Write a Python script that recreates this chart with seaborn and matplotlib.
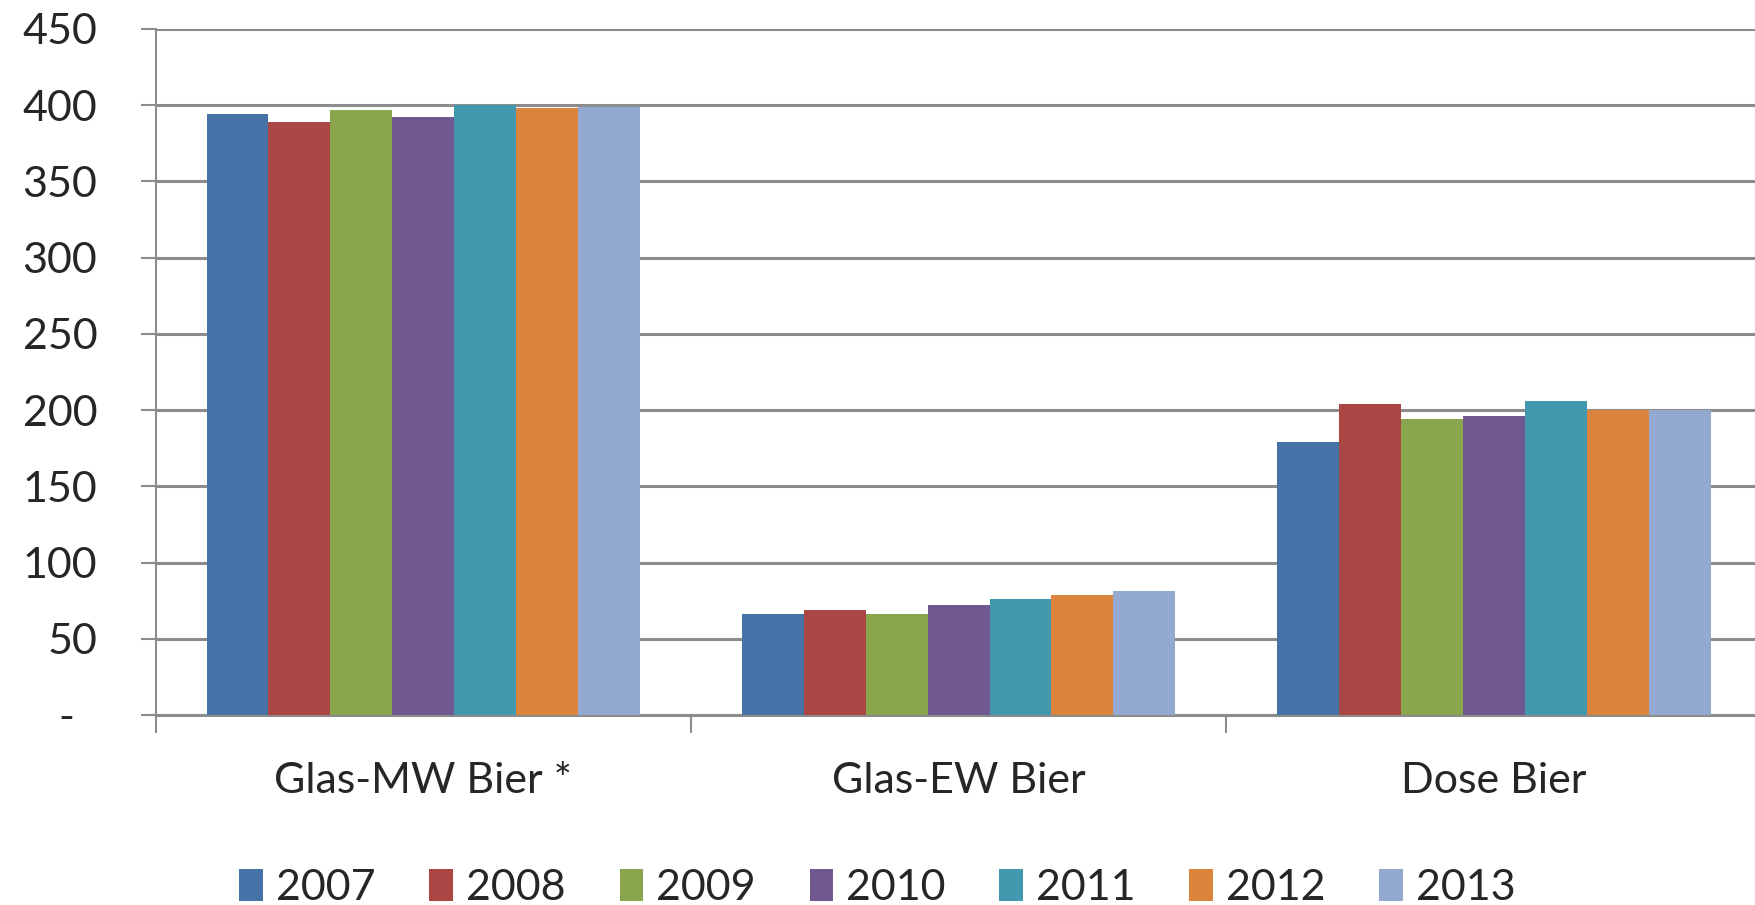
import numpy as np
import pandas as pd
import matplotlib
matplotlib.use("Agg")
import matplotlib.pyplot as plt
import seaborn as sns

categories = ["Glas-MW Bier *", "Glas-EW Bier", "Dose Bier"]
years = ["2007", "2008", "2009", "2010", "2011", "2012", "2013"]
values_2007 = [394, 66, 179]
values_2008 = [389, 69, 204]
values_2009 = [397, 66, 194]
values_2010 = [392, 72, 196]
values_2011 = [400, 76, 206]
values_2012 = [398, 79, 200]
values_2013 = [399, 81, 200]
colors = ["#4572A7", "#AA4643", "#89A54E", "#71588F", "#4198AF", "#DB843D", "#93A9CF"]
yticks = [0, 50, 100, 150, 200, 250, 300, 350, 400, 450]
ytick_labels = ["-  ", "50", "100", "150", "200", "250", "300", "350", "400", "450"]

series = [values_2007, values_2008, values_2009, values_2010, values_2011, values_2012, values_2013]
rows = []
for y, vals in zip(years, series):
    for c, v in zip(categories, vals):
        rows.append({"Kategorie": c, "Jahr": y, "Wert": v})
df = pd.DataFrame(rows)

sns.set_theme(style="white")
plt.rcParams['font.family'] = ['Lato', 'DejaVu Sans']

fig = plt.figure(figsize=(17.55, 9.05), dpi=100)
ax = fig.add_axes([0.0887, 0.21, 0.915, 0.758])

sns.barplot(data=df, x="Kategorie", y="Wert", hue="Jahr", order=categories,
            hue_order=years, palette=colors, width=0.81, gap=0, saturation=1,
            edgecolor="none", linewidth=0, ax=ax, legend=True, zorder=3)

ax.set_xlim(-0.5, 2.5)
ax.set_ylim(0, 450)
ax.set_yticks(yticks)
ax.set_yticklabels(ytick_labels)
ax.yaxis.grid(True, color="#8c8c8c", linewidth=2.2, zorder=0)
ax.set_axisbelow(True)
ax.set_xlabel("")
ax.set_ylabel("")

ax.set_xticks([-0.5, 0.5, 1.5, 2.5])
ax.set_xticklabels([])
ax.set_xticks([0, 1, 2], minor=True)
ax.set_xticklabels(categories, minor=True)
ax.tick_params(axis="x", which="major", direction="out", length=13, width=1.5,
               color="#8c8c8c", bottom=True)
ax.tick_params(axis="x", which="minor", length=0, pad=34, labelsize=31, bottom=True)
ax.tick_params(axis="y", direction="out", length=11, width=1.5, color="#8c8c8c",
               pad=31, labelsize=31, left=True)

for s in ["top", "right"]:
    ax.spines[s].set_visible(False)
ax.spines["left"].set_color("#8c8c8c")
ax.spines["left"].set_linewidth(1.5)
ax.spines["bottom"].set_color("#8c8c8c")
ax.spines["bottom"].set_linewidth(2.2)

handles, labels = ax.get_legend_handles_labels()
ax.legend_.remove()
fig.legend(handles, labels, loc="lower center", bbox_to_anchor=(0.5, -0.045), ncol=7,
           frameon=False, fontsize=31, handlelength=0.55, handleheight=0.75,
           handletextpad=0.3, columnspacing=1.25)

fig.savefig("out.png", dpi=100)
